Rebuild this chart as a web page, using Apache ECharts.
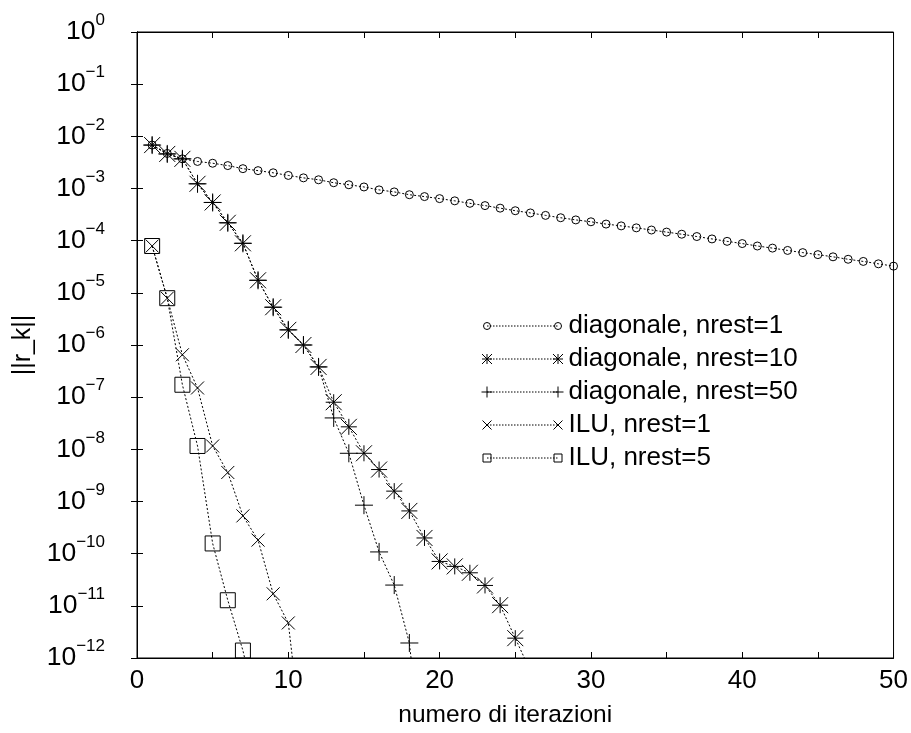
<!DOCTYPE html>
<html>
<head>
<meta charset="utf-8">
<script src="https://cdn.jsdelivr.net/npm/echarts@6/dist/echarts.min.js"></script>
<style>html,body{margin:0;padding:0;background:#fff}#c{width:911px;height:733px}</style>
</head>
<body>
<div id="c"></div>
<script>
// ---- data ----
const seriesNames = ['diagonale, nrest=1', 'diagonale, nrest=10', 'diagonale, nrest=50', 'ILU, nrest=1', 'ILU, nrest=5'];

const iterDiag1 = [1,2,3,4,5,6,7,8,9,10,11,12,13,14,15,16,17,18,19,20,21,22,23,24,25,26,27,28,29,30,31,32,33,34,35,36,37,38,39,40,41,42,43,44,45,46,47,48,49,50];
const resDiag1 = [6.8e-3,4.7e-3,3.7e-3,3.3e-3,3.05e-3,2.75e-3,2.4e-3,2.2e-3,2.0e-3,1.78e-3,1.6e-3,1.47e-3,1.29e-3,1.18e-3,1.07e-3,9.4e-4,8.6e-4,7.6e-4,7.0e-4,6.4e-4,5.8e-4,5.2e-4,4.7e-4,4.2e-4,3.75e-4,3.4e-4,3.05e-4,2.75e-4,2.5e-4,2.3e-4,2.08e-4,1.92e-4,1.76e-4,1.6e-4,1.46e-4,1.33e-4,1.2e-4,1.08e-4,9.7e-5,8.8e-5,7.9e-5,7.2e-5,6.5e-5,5.9e-5,5.4e-5,4.9e-5,4.4e-5,4.0e-5,3.6e-5,3.25e-5];

const iterDiag10 = [1,2,3,4,5,6,7,8,9,10,11,12,13,14,15,16,17,18,19,20,21,22,23,24,25,26];
const resDiag10 = [6.8e-3,4.6e-3,3.7e-3,1.23e-3,5.4e-4,2.2e-4,8.9e-5,1.74e-5,5.3e-6,1.95e-6,1.0e-6,3.8e-7,8.0e-8,2.7e-8,8.4e-9,4.1e-9,1.58e-9,6.6e-10,2.0e-10,7.1e-11,5.7e-11,4.3e-11,2.46e-11,1.03e-11,2.4e-12,5.6e-13];

const iterDiag50 = [1,2,3,4,5,6,7,8,9,10,11,12,13,14,15,16,17,18,19];
const resDiag50 = [6.8e-3,4.6e-3,3.7e-3,1.23e-3,5.4e-4,2.2e-4,8.9e-5,1.74e-5,5.3e-6,1.95e-6,1.0e-6,3.8e-7,4.0e-8,8.4e-9,8.5e-10,1.08e-10,2.5e-11,1.94e-12,5e-15];

const iterIlu1 = [1,2,3,4,5,6,7,8,9,10,11];
const resIlu1 = [7.9e-5,7.9e-6,6.5e-7,1.5e-7,1.16e-8,3.6e-9,5.3e-10,1.82e-10,1.7e-11,4.7e-12,1.5e-14];

const iterIlu5 = [1,2,3,4,5,6,7,8];
const resIlu5 = [7.9e-5,7.9e-6,1.73e-7,1.16e-8,1.57e-10,1.28e-11,1.39e-12,8e-14];

const xTicks = [0,10,20,30,40,50];

// ---- chart ----
const FONT = 'Liberation Sans, Arial, Helvetica, sans-serif';
const zip = (xs, ys) => xs.map((x, i) => [x, ys[i]]);

const SYM_ASTER = 'path://M0,-1L0,1M-1,0L1,0M-1,-1L1,1M-1,1L1,-1';
const SYM_PLUS = 'path://M0,-1L0,1M-1,0L1,0';
const SYM_CROSS = 'path://M-1,-1L1,1M-1,1L1,-1';
const SYM_SQUARE = 'path://M-1,-1L1,-1L1,1L-1,1Z';

// legend sample (gnuplot style: symbol, dotted line, symbol)
const LW = 82, LH = 12, LCY = 6, LX1 = 5.5, LX2 = 76.5;
function glyph(kind, cx) {
  const y = LCY;
  switch (kind) {
    case 'circle': { const r = 3.5; return 'M' + (cx + r) + ',' + y + 'A' + r + ',' + r + ',0,1,1,' + (cx - r) + ',' + y + 'A' + r + ',' + r + ',0,1,1,' + (cx + r) + ',' + y + 'Z'; }
    case 'aster': { const r = 5; return 'M' + cx + ',' + (y - r) + 'L' + cx + ',' + (y + r) + 'M' + (cx - r) + ',' + y + 'L' + (cx + r) + ',' + y +
      'M' + (cx - r) + ',' + (y - r) + 'L' + (cx + r) + ',' + (y + r) + 'M' + (cx - r) + ',' + (y + r) + 'L' + (cx + r) + ',' + (y - r); }
    case 'plus': { const r = 5.5; return 'M' + cx + ',' + (y - r) + 'L' + cx + ',' + (y + r) + 'M' + (cx - r) + ',' + y + 'L' + (cx + r) + ',' + y; }
    case 'cross': { const r = 4.5; return 'M' + (cx - r) + ',' + (y - r) + 'L' + (cx + r) + ',' + (y + r) + 'M' + (cx - r) + ',' + (y + r) + 'L' + (cx + r) + ',' + (y - r); }
    case 'square': { const r = 4; return 'M' + (cx - r) + ',' + (y - r) + 'L' + (cx + r) + ',' + (y - r) + 'L' + (cx + r) + ',' + (y + r) + 'L' + (cx - r) + ',' + (y + r) + 'Z'; }
  }
  return '';
}
function legendIcon(kind) {
  let p = 'M0,0M' + LW + ',' + LH;
  p += glyph(kind, LX1);
  for (let x = LX1; x < LX2 - 1; x += 3) {
    p += 'M' + x + ',' + LCY + 'L' + (x + 1.5) + ',' + LCY;
  }
  p += glyph(kind, LX2);
  return 'path://' + p;
}
const legendKinds = ['circle', 'aster', 'plus', 'cross', 'square'];

function mk(name, data, symbol, size) {
  return {
    name: name,
    type: 'line',
    data: data,
    symbol: symbol,
    symbolSize: size,
    showSymbol: true,
    clip: true,
    xAxisIndex: 0,
    yAxisIndex: 0,
    lineStyle: { color: '#000', width: 1, type: [2, 2] },
    itemStyle: { color: 'rgba(0,0,0,0)', borderColor: '#000', borderWidth: 1 },
    emphasis: { disabled: true }
  };
}

const series = [
  mk(seriesNames[0], zip(iterDiag1, resDiag1), 'circle', 8),
  mk(seriesNames[1], zip(iterDiag10, resDiag10), SYM_ASTER, 16),
  mk(seriesNames[2], zip(iterDiag50, resDiag50), SYM_PLUS, 18),
  mk(seriesNames[3], zip(iterIlu1, resIlu1), SYM_CROSS, 13),
  mk(seriesNames[4], zip(iterIlu5, resIlu5), SYM_SQUARE, 15)
];

const yFmt = function (v) {
  const e = Math.round(Math.log10(v));
  return '{b|10}{e|' + (e === 0 ? '0' : '\u2212' + (-e)) + '}';
};

const option = {
  animation: false,
  backgroundColor: '#fff',
  grid: { left: 137, top: 32, right: 15, bottom: 70, show: true, borderColor: '#000', borderWidth: 1, backgroundColor: 'transparent' },
  legend: {
    orient: 'vertical',
    left: 476, top: 308,
    itemWidth: LW, itemHeight: LH, itemGap: 7,
    symbolKeepAspect: false,
    selectedMode: false,
    itemStyle: { color: 'rgba(0,0,0,0)', borderColor: '#000', borderWidth: 1 },
    data: seriesNames.map((n, i) => ({ name: n, icon: legendIcon(legendKinds[i]) })),
    textStyle: { fontFamily: FONT, fontSize: 26, color: '#000', lineHeight: 26 }
  },
  xAxis: [{
    type: 'value', min: 0, max: 50, interval: 5,
    position: 'bottom',
    name: 'numero di iterazioni', nameLocation: 'middle', nameGap: 45,
    nameTextStyle: { fontFamily: FONT, fontSize: 24.5, color: '#000', padding: [0, 20, 0, 0] },
    axisLine: { lineStyle: { color: '#000', width: 1 } },
    axisTick: { inside: true, length: 6, lineStyle: { color: '#000' } },
    axisLabel: { fontFamily: FONT, fontSize: 26, color: '#000', margin: 10,
      formatter: v => (xTicks.indexOf(v) >= 0 ? String(v) : '') },
    splitLine: { show: false }
  }, {
    type: 'value', min: 0, max: 50, interval: 5,
    position: 'top',
    axisLine: { lineStyle: { color: '#000', width: 1 } },
    axisTick: { inside: true, length: 6, lineStyle: { color: '#000' } },
    axisLabel: { show: false },
    splitLine: { show: false }
  }],
  yAxis: [{
    type: 'log', logBase: 10, min: 1e-12, max: 1, interval: 1,
    position: 'left',
    name: '||r_k||', nameLocation: 'middle', nameGap: 97, nameRotate: 90,
    nameTextStyle: { fontFamily: FONT, fontSize: 25, color: '#000' },
    axisLine: { lineStyle: { color: '#000', width: 1 } },
    axisTick: { inside: true, length: 6, lineStyle: { color: '#000' } },
    minorTick: { show: false },
    axisLabel: {
      margin: 32, formatter: yFmt, color: '#000',
      rich: {
        b: { fontFamily: FONT, fontSize: 26.5, lineHeight: 40, color: '#000' },
        e: { fontFamily: FONT, fontSize: 17, lineHeight: 16, verticalAlign: 'top', color: '#000' }
      }
    },
    splitLine: { show: false }
  }, {
    type: 'log', logBase: 10, min: 1e-12, max: 1, interval: 1,
    position: 'right',
    axisLine: { lineStyle: { color: '#000', width: 1 } },
    axisTick: { inside: true, length: 6, lineStyle: { color: '#000' } },
    minorTick: { show: false },
    axisLabel: { show: false },
    splitLine: { show: false }
  }],
  series: series
};

const chart = echarts.init(document.getElementById('c'), null, { renderer: 'canvas' });
chart.setOption(option);
</script>
</body>
</html>
